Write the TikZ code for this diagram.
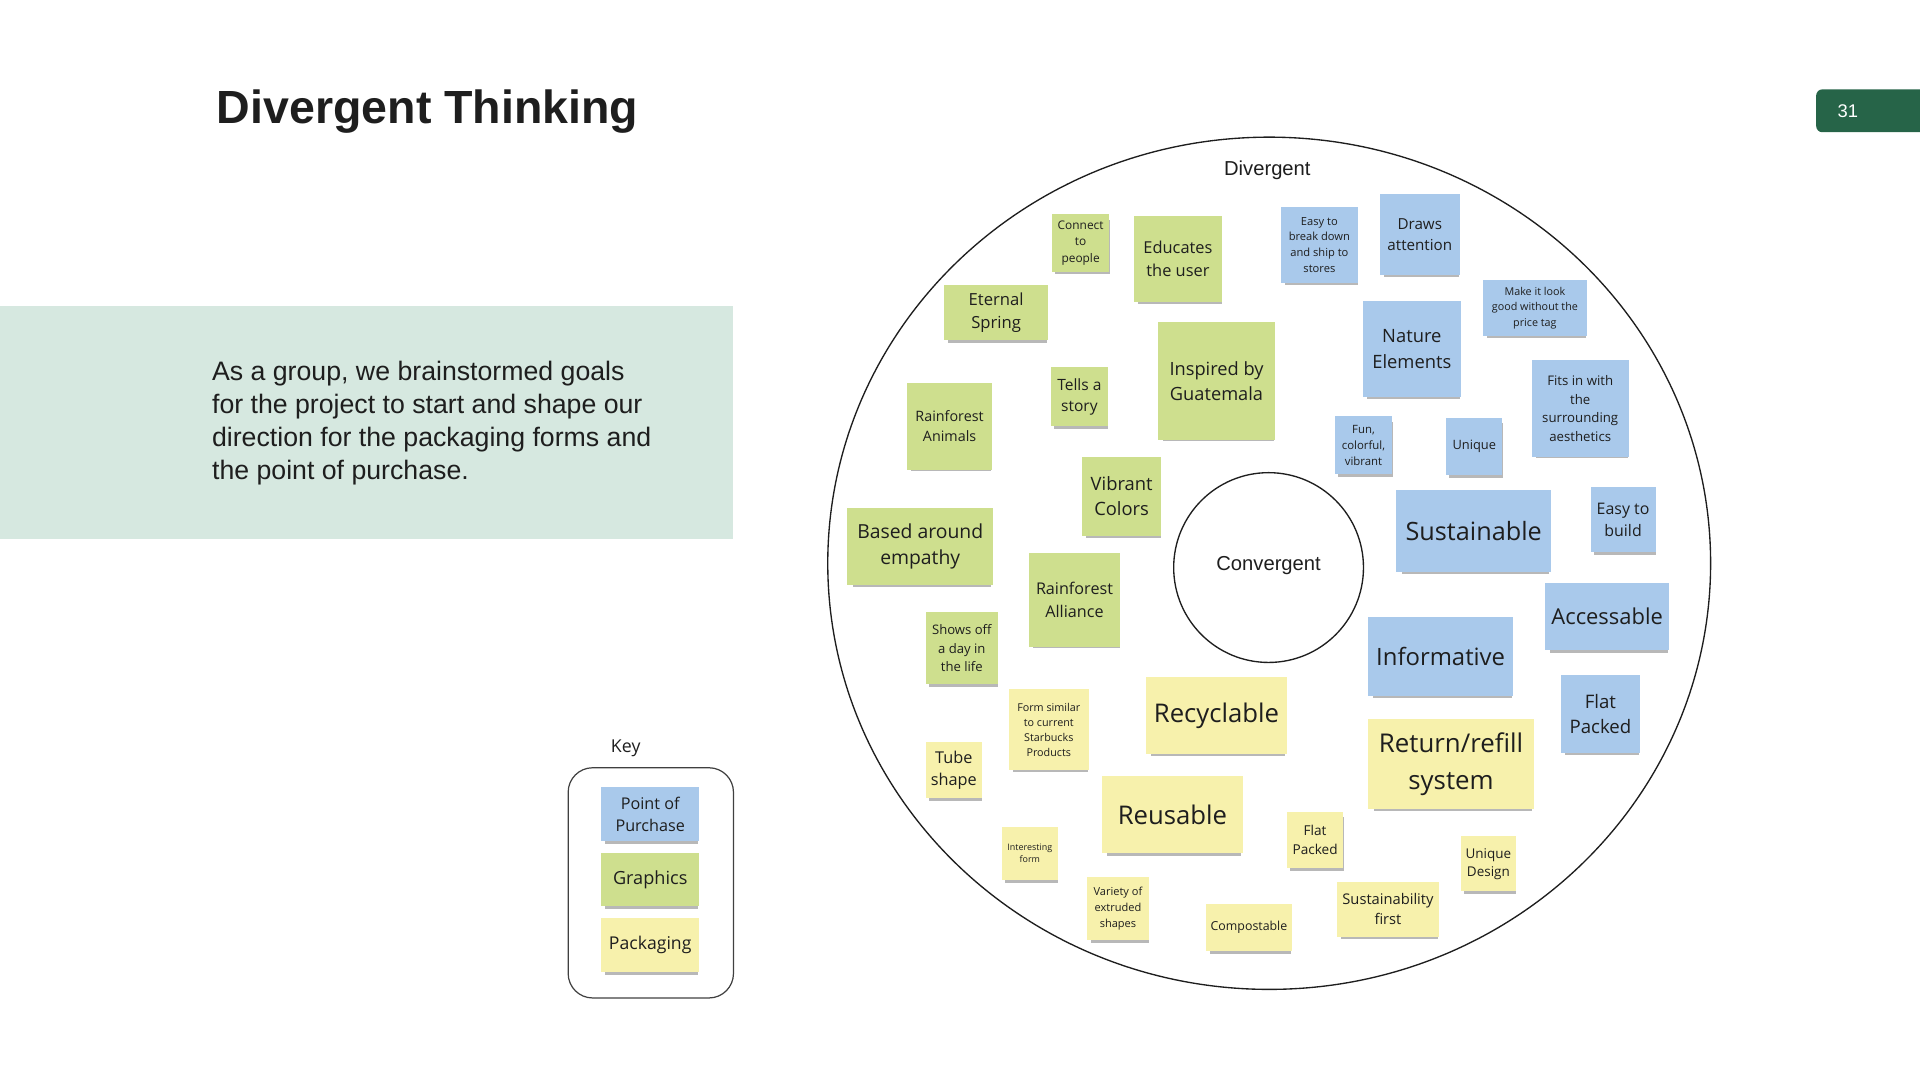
\documentclass[tikz,border=0pt]{standalone}
\usepackage{fontspec}
\setmainfont{Liberation Sans}
\newfontfamily\notefont{Open Sans}
\usetikzlibrary{shadows}
\definecolor{noteblue}{RGB}{169,201,235}
\definecolor{notegreen}{RGB}{206,223,142}
\definecolor{noteyellow}{RGB}{247,241,172}
\definecolor{boxgreen}{RGB}{214,232,224}
\definecolor{tabgreen}{RGB}{38,100,72}
\definecolor{ink}{RGB}{30,30,30}
\newcommand{\nf}[2]{\notefont\fontsize{#1}{#2}\selectfont}
\newcommand{\tf}[2]{\fontsize{#1}{#2}\selectfont}
\tikzset{
    node style note/.style={inner sep=0pt,align=center,text=ink,
        drop shadow={shadow xshift=1.5pt,shadow yshift=-3.5pt,shadow scale=.95,opacity=.28,fill=black}},
    node style bl/.style={node style note,fill=noteblue},
    node style gr/.style={node style note,fill=notegreen},
    node style ye/.style={node style note,fill=noteyellow},
    ring style/.style={draw=ink,line width=1.1pt},
}

\begin{document}
\begin{tikzpicture}[x=1pt,y=-1pt]
   \useasboundingbox (0,0) rectangle (1568,882);
   % heading and side text
   \node[anchor=base west,inner sep=0pt,text=ink,font=\bfseries\tf{38}{44}] (title) at (177,101) {Divergent Thinking};
   \node[fill=boxgreen,anchor=north west,inner sep=0pt,minimum width=598pt,minimum height=190pt] (textbox) at (0,250) {};
   \node[anchor=north west,inner sep=0pt,align=left,text=ink,font=\tf{21.8}{27}] (goals) at (173,294.5)
     {As a group, we brainstormed goals\\for the project to start and shape our\\direction for the packaging forms and\\the point of purchase.};
   \node[fill=tabgreen,rounded corners=5pt,anchor=west,inner sep=0pt,minimum width=100pt,minimum height=35pt] (tab) at (1483,90.5) {};
   \node[text=white,anchor=base,inner sep=0pt,font=\tf{15}{18}] (pagenum) at (1509,96) {31};

   % divergent / convergent rings
   \draw[ring style] (1036.5,460) ellipse [x radius=360.5pt,y radius=348pt];
   \node[anchor=base,inner sep=0pt,text=ink,font=\tf{16.5}{20}] (divlabel) at (1035,143.5) {Divergent};
   \node[ring style,circle,minimum size=155pt,inner sep=0pt] (conv) at (1036,463.5) {};
   \node[anchor=base,inner sep=0pt,text=ink,font=\tf{16.5}{20}] (convlabel) at (1036,466) {Convergent};

   % graphics
   \node[node style gr,minimum width=47pt,minimum height=47pt,font=\nf{9.7}{13.4}] (connect) at (882.5,198.5) {Connect\\to\\people};
   \node[node style gr,minimum width=72pt,minimum height=71pt,font=\nf{13.4}{18.5}] (educates) at (962,211.5) {Educates\\the user};
   \node[node style gr,minimum width=85pt,minimum height=45pt,font=\nf{13.6}{18.7}] (eternal) at (813.5,255.5) {Eternal\\Spring};
   \node[node style gr,minimum width=95pt,minimum height=96pt,font=\nf{14.9}{20.5}] (inspired) at (993.5,311) {Inspired by\\Guatemala};
   \node[node style gr,minimum width=47pt,minimum height=48pt,font=\nf{12.7}{17.5}] (story) at (881.5,324) {Tells a\\story};
   \node[node style gr,minimum width=69pt,minimum height=71pt,font=\nf{11.7}{16.5}] (animals) at (775.5,348) {Rainforest\\Animals};
   \node[node style gr,minimum width=64pt,minimum height=65pt,font=\nf{15}{20.5}] (vibrant) at (916,405.5) {Vibrant\\Colors};
   \node[node style gr,minimum width=119pt,minimum height=63pt,font=\nf{15.8}{21.5}] (empathy) at (751.5,446.5) {Based around\\empathy};
   \node[node style gr,minimum width=75pt,minimum height=76pt,font=\nf{13.2}{18.2}] (alliance) at (877.5,490) {Rainforest\\Alliance};
   \node[node style gr,minimum width=59pt,minimum height=59pt,font=\nf{10.7}{15}] (daylife) at (785.5,529.5) {Shows off\\a day in\\the life};

   % packaging
   \node[node style ye,minimum width=65pt,minimum height=66pt,font=\nf{8.8}{12.4}] (similar) at (856.5,596) {Form similar\\to current\\Starbucks\\Products};
   \node[node style ye,minimum width=46pt,minimum height=46pt,font=\nf{13.3}{18.5}] (tube) at (779,629) {Tube\\shape};
   \node[node style ye,minimum width=115pt,minimum height=63pt,font=\nf{21}{28}] (recyclable) at (993.5,584.5) {Recyclable};
   \node[node style ye,minimum width=115pt,minimum height=63pt,font=\nf{21}{28}] (reusable) at (957.5,665.5) {Reusable};
   \node[node style ye,minimum width=136pt,minimum height=74pt,font=\nf{21.1}{30}] (refill) at (1185,624) {Return/refill\\system};
   \node[node style ye,minimum width=46pt,minimum height=46pt,font=\nf{11.1}{15.5}] (flatye) at (1074,686) {Flat\\Packed};
   \node[node style ye,minimum width=45pt,minimum height=45pt,font=\nf{11}{15}] (uniqdesign) at (1215.5,705.5) {Unique\\Design};
   \node[node style ye,minimum width=83pt,minimum height=45pt,font=\nf{12}{16.5}] (susfirst) at (1133.5,742.5) {Sustainability\\first};
   \node[node style ye,minimum width=70pt,minimum height=39pt,font=\nf{10.1}{14}] (compost) at (1020,757.5) {Compostable};
   \node[node style ye,minimum width=50pt,minimum height=52pt,font=\nf{9}{12.7}] (extruded) at (913,742) {Variety of\\extruded\\shapes};
   \node[node style ye,minimum width=46pt,minimum height=44pt,font=\nf{7.3}{10}] (interest) at (841,697) {Interesting\\form};

   % point of purchase
   \node[node style bl,minimum width=63pt,minimum height=62pt,font=\nf{9.1}{12.9}] (shipping) at (1077.5,200) {Easy to\\break down\\and ship to\\stores};
   \node[node style bl,minimum width=65pt,minimum height=66pt,font=\nf{12.4}{17}] (draws) at (1159.5,191.5) {Draws\\attention};
   \node[node style bl,minimum width=85pt,minimum height=45pt,font=\nf{8.8}{12.5}] (pricetag) at (1253.5,251.5) {Make it look\\good without the\\price tag};
   \node[node style bl,minimum width=80pt,minimum height=79pt,font=\nf{15}{21}] (nature) at (1153,285) {Nature\\Elements};
   \node[node style bl,minimum width=79pt,minimum height=79pt,font=\nf{10.8}{15.2}] (aesthetic) at (1290.5,333.5) {Fits in with\\the\\surrounding\\aesthetics};
   \node[node style bl,minimum width=47pt,minimum height=47pt,font=\nf{9.3}{13}] (colorful) at (1113.5,363.5) {Fun,\\colorful,\\vibrant};
   \node[node style bl,minimum width=46pt,minimum height=47pt,font=\nf{10.5}{14}] (unique) at (1204,364.5) {Unique};
   \node[node style bl,minimum width=127pt,minimum height=67pt,font=\nf{20.6}{28}] (sustain) at (1203.5,433.5) {Sustainable};
   \node[node style bl,minimum width=53pt,minimum height=53pt,font=\nf{13}{18}] (easybuild) at (1325.5,424.5) {Easy to\\build};
   \node[node style bl,minimum width=101pt,minimum height=55pt,font=\nf{17.9}{24}] (access) at (1312.5,503.5) {Accessable};
   \node[node style bl,minimum width=119pt,minimum height=64pt,font=\nf{19.5}{26}] (inform) at (1176.5,536) {Informative};
   \node[node style bl,minimum width=64pt,minimum height=64pt,font=\nf{15.2}{21}] (flatbl) at (1307,583) {Flat\\Packed};

   % key
   \node[anchor=base,inner sep=0pt,text=ink,font=\nf{14.5}{18}] (keylabel) at (511,614.5) {Key};
   \node[draw=ink!85,line width=1pt,rounded corners=20pt,minimum width=135pt,minimum height=188pt,inner sep=0pt] (keybox) at (531.5,721) {};
   \node[node style bl,minimum width=80pt,minimum height=44pt,font=\nf{13.2}{18}] (keypop) at (531,665) {Point of\\Purchase};
   \node[node style gr,minimum width=80pt,minimum height=43pt,font=\nf{14.8}{20}] (keygraph) at (531,718.5) {Graphics};
   \node[node style ye,minimum width=80pt,minimum height=44pt,font=\nf{14.4}{20}] (keypack) at (531,772) {Packaging};
\end{tikzpicture}
\end{document}
